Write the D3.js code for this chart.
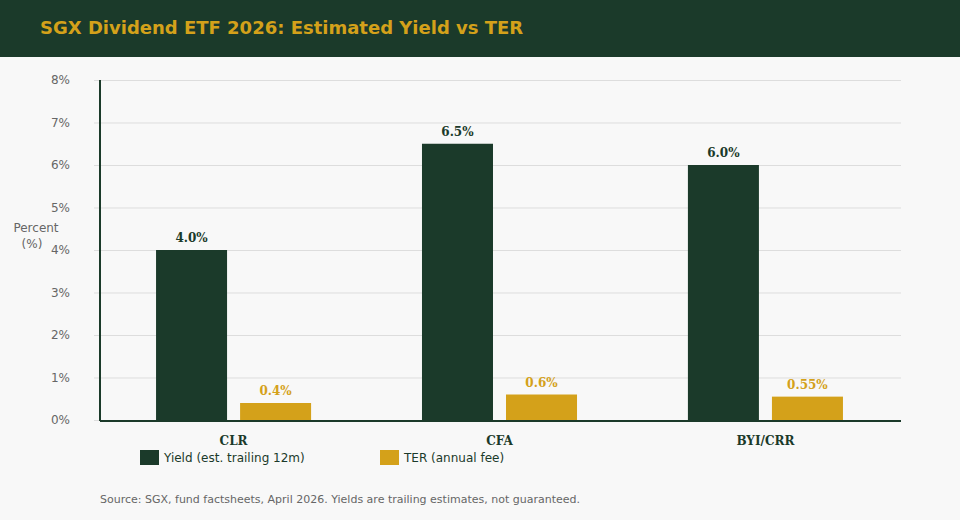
<!DOCTYPE html>
<html>
<head>
<meta charset="utf-8">
<script src="https://cdn.jsdelivr.net/npm/d3@7"></script>
<style>
  body { margin: 0; background: #f8f8f8; }
  svg { display: block; font-family: "DejaVu Sans", sans-serif; }
</style>
</head>
<body>
<svg id="chart" width="960" height="520"></svg>
<script>
// chart data
const categories = ['CLR', 'CFA', 'BYI/CRR'];
const seriesNames = ['Yield (est. trailing 12m)', 'TER (annual fee)'];
const yieldValues = [4.0, 6.5, 6.0];
const terValues = [0.4, 0.6, 0.55];
const yieldLabels = ['4.0%', '6.5%', '6.0%'];
const terLabels = ['0.4%', '0.6%', '0.55%'];
const yTicks = [0, 1, 2, 3, 4, 5, 6, 7, 8];

const green = '#1b3a2a';
const gold = '#d4a11a';

const svg = d3.select('#chart');
const margin = { top: 80, right: 59, bottom: 100, left: 101 };
const width = 960 - margin.left - margin.right;
const height = 520 - margin.top - margin.bottom;

// header band
svg.append('rect').attr('width', 960).attr('height', 57).attr('fill', green);
svg.append('text')
    .attr('x', 40).attr('y', 34)
    .attr('fill', gold)
    .style('font-size', '18px')
    .style('font-weight', 'bold')
    .text('SGX Dividend ETF 2026: Estimated Yield vs TER');

const g = svg.append('g').attr('transform', `translate(${margin.left},${margin.top})`);

const y = d3.scaleLinear().domain([0, 8]).range([height, 0]);
const x0 = d3.scaleBand().domain(categories).range([0, 797]).paddingInner(0.417).paddingOuter(0.207);
const x1 = d3.scaleBand().domain(seriesNames).range([0, x0.bandwidth()]).paddingInner(0.155);

// gridlines + y ticks
const yAxis = g.append('g')
    .attr('transform', 'translate(-7,0)')
    .call(d3.axisLeft(y).tickValues(yTicks).tickSize(-width - 7).tickPadding(24).tickFormat(d => d + '%'));
yAxis.select('.domain').remove();
yAxis.selectAll('.tick line').attr('stroke', '#dddddd').attr('stroke-width', 1);
yAxis.selectAll('.tick text')
    .attr('fill', '#666')
    .style('font-size', '12px')
    .style('font-family', '"DejaVu Sans", sans-serif');

// y axis title
const yTitle = [{ t: 'Percent', x: 36 }, { t: '(%)', x: 32 }];
svg.append('text')
    .attr('text-anchor', 'middle')
    .attr('fill', '#666')
    .style('font-size', '12px')
    .selectAll('tspan')
    .data(yTitle)
    .join('tspan')
    .attr('x', d => d.x)
    .attr('y', (d, i) => 232 + i * 16)
    .text(d => d.t);

const rows = categories.map((c, i) => ({
    cat: c,
    vals: [
        { key: seriesNames[0], v: yieldValues[i], label: yieldLabels[i], color: green },
        { key: seriesNames[1], v: terValues[i], label: terLabels[i], color: gold }
    ]
}));

const groups = g.selectAll('.grp')
    .data(rows)
    .join('g')
    .attr('class', 'grp')
    .attr('transform', d => `translate(${x0(d.cat)},0)`);

groups.selectAll('rect')
    .data(d => d.vals)
    .join('rect')
    .attr('x', d => x1(d.key))
    .attr('y', d => y(d.v))
    .attr('width', x1.bandwidth())
    .attr('height', d => height - y(d.v))
    .attr('fill', d => d.color);

groups.selectAll('text')
    .data(d => d.vals)
    .join('text')
    .attr('x', d => x1(d.key) + x1.bandwidth() / 2)
    .attr('y', d => y(d.v) - 8)
    .attr('text-anchor', 'middle')
    .attr('fill', d => d.color)
    .style('font-family', '"DejaVu Serif", serif')
    .style('font-weight', 'bold')
    .style('font-size', '12px')
    .text(d => d.label);

// axis lines
g.append('line').attr('x1', -1).attr('x2', -1).attr('y1', 0).attr('y2', height + 1)
    .attr('stroke', green).attr('stroke-width', 2);
g.append('line').attr('x1', -1).attr('x2', width).attr('y1', height + 1).attr('y2', height + 1)
    .attr('stroke', green).attr('stroke-width', 2);

// category labels
g.selectAll('.cat')
    .data(categories)
    .join('text')
    .attr('class', 'cat')
    .attr('x', d => x0(d) + x0.bandwidth() / 2)
    .attr('y', height + 25)
    .attr('text-anchor', 'middle')
    .attr('fill', green)
    .style('font-family', '"DejaVu Serif", serif')
    .style('font-weight', 'bold')
    .style('font-size', '12px')
    .text(d => d);

// legend
const legendX = [140, 380];
const legend = svg.selectAll('.leg')
    .data(seriesNames)
    .join('g')
    .attr('class', 'leg')
    .attr('transform', (d, i) => `translate(${legendX[i]},450)`);
legend.append('rect').attr('width', 19).attr('height', 15)
    .attr('fill', (d, i) => i === 0 ? green : gold);
legend.append('text').attr('x', 24).attr('y', 12)
    .attr('fill', green)
    .style('font-size', '12px')
    .text(d => d);

// source note
svg.append('text')
    .attr('x', 100).attr('y', 503)
    .attr('fill', '#666')
    .style('font-size', '11px')
    .text('Source: SGX, fund factsheets, April 2026. Yields are trailing estimates, not guaranteed.');
</script>
</body>
</html>
